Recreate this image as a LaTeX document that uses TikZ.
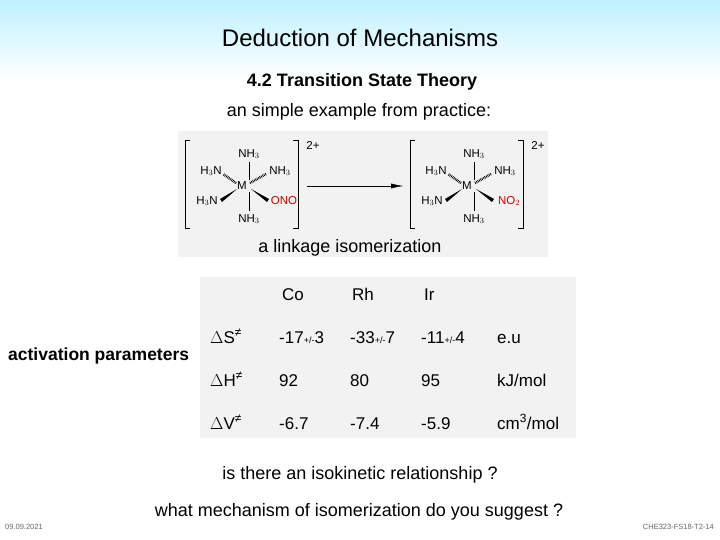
\documentclass[tikz,border=0pt]{standalone}
\usepackage{fontspec}
\setmainfont{Liberation Sans}
\usetikzlibrary{arrows.meta}
\begin{document}
\begin{tikzpicture}[x=1pt,y=-1pt,
  lab/.style={inner sep=0pt,font=\fontsize{11.5}{13}\selectfont},
  tb/.style={inner sep=0pt,anchor=base west,font=\fontsize{17}{20}\selectfont},
  hash/.style={line width=3pt,dash pattern=on 0.7pt off 0.9pt},
  red/.style={text=red!80!black}]
\shade[top color=blue!22!cyan!25,bottom color=white] (0,0) rectangle (720,80);
\useasboundingbox (0,0) rectangle (720,540);
\node[inner sep=0pt,font=\fontsize{24}{28}\selectfont] (title) at (360,38) {Deduction of Mechanisms};
\node[inner sep=0pt,font=\bfseries\fontsize{18}{21}\selectfont] (sub) at (362,82) {4.2 Transition State Theory};
\node[inner sep=0pt,font=\fontsize{18}{21}\selectfont] (ex) at (359,112) {an simple example from practice:};
\fill[black!5] (178,131) rectangle (548,257);
\fill[black!5] (200,277) rectangle (576,438);
\node[inner sep=0pt,font=\fontsize{18}{21}\selectfont] (link) at (350,248) {a linkage isomerization};
\foreach \cx/\sfx/\nm in {242/ONO/L, 467/NO$_2$/R}{
  \begin{scope}[shift={(\cx,186)}]
  \node[lab] (M\nm) at (0,0) {M};
  \node[lab] (t\nm) at (7,-32) {NH$_3$};
  \node[lab] (b\nm) at (7,33) {NH$_3$};
  \node[lab] (ul\nm) at (-31,-15) {H$_3$N};
  \node[lab] (ur\nm) at (38,-15) {NH$_3$};
  \node[lab] (ll\nm) at (-35,15) {H$_3$N};
  \node[lab,red] (lr\nm) at (42,15) {\sfx};
  \draw (7,-24) -- (7,-6); \draw (7,6) -- (7,25);
  \draw[hash,line width=2.5pt] (-6,-3) -- (-19,-12);
  \draw[hash,line width=2.5pt] (8,-3) -- (24,-12);
  \fill (-5,3) -- (-22,13) -- (-20,16) -- cycle;
  \fill (9,3) -- (27,13) -- (25,16) -- cycle;
  \draw[line width=0.8pt] (-52,-46) -- (-57,-46) -- (-57,42) -- (-52,42);
  \draw[line width=0.8pt] (51,-46) -- (56,-46) -- (56,42) -- (51,42);
  \node[lab] (c\nm) at (71,-41) {2+};
  \end{scope}}
\coordinate (a1) at (307,186); \coordinate (a2) at (403,186);
\draw[-{Latex[length=12pt,width=5pt]}] (a1) -- (a2);
\foreach \txt/\xx in {Co/282, Rh/352, Ir/424}{\node[tb] at (\xx,300) {\txt};}
\node[tb] (s) at (210,343) {$\Delta$S\textsuperscript{≠}};
\node[tb] (h) at (210,386) {$\Delta$H\textsuperscript{≠}};
\node[tb] (v) at (210,429) {$\Delta$V\textsuperscript{≠}};
\node[tb] at (279,343) {-17{\small+/-}3};
\node[tb] at (350,343) {-33{\small+/-}7};
\node[tb] at (421,343) {-11{\small+/-}4};
\node[tb] at (497,343) {e.u};
\node[tb] at (279,386) {92}; \node[tb] at (350,386) {80}; \node[tb] at (421,386) {95}; \node[tb] at (497,386) {kJ/mol};
\node[tb] at (279,429) {-6.7}; \node[tb] at (350,429) {-7.4}; \node[tb] at (421,429) {-5.9}; \node[tb] at (497,429) {cm\textsuperscript{3}/mol};
\node[inner sep=0pt,anchor=west,font=\bfseries\fontsize{17.5}{20}\selectfont] (act) at (8,356) {activation parameters};
\node[inner sep=0pt,font=\fontsize{18}{21}\selectfont] (q1) at (360,475) {is there an isokinetic relationship ?};
\node[inner sep=0pt,font=\fontsize{18}{21}\selectfont] (q2) at (359,512) {what mechanism of isomerization do you suggest ?};
\node[inner sep=0pt,anchor=west,font=\fontsize{7.5}{9}\selectfont,text=black!60] (d) at (5,527) {09.09.2021};
\node[inner sep=0pt,anchor=east,font=\fontsize{7.5}{9}\selectfont,text=black!60] (f) at (714,527) {CHE323-FS18-T2-14};
\end{tikzpicture}
\end{document}
